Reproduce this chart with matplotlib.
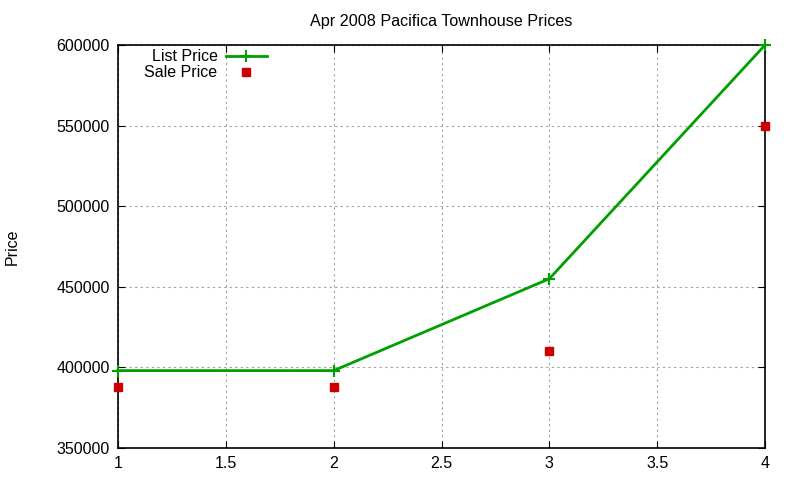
import matplotlib
matplotlib.use("Agg")
import matplotlib.pyplot as plt

x = [1, 2, 3, 4]
list_price = [398000, 398000, 455000, 600000]
sale_price = [388000, 388000, 410000, 550000]
title = "Apr 2008 Pacifica Townhouse Prices"

plt.rcParams['font.family'] = ['Liberation Sans', 'DejaVu Sans']
fig = plt.figure(figsize=(8, 4.8), dpi=100)
ax = fig.add_axes([0.1475, 0.0667, 0.8088, 0.8395])

ax.plot(x, list_price, color='#00a000', lw=2, marker='+', ms=9, mew=1.5, label='List Price', clip_on=False, zorder=3)
ax.plot(x, sale_price, ls='none', color='#cc0000', marker='s', ms=6, label='Sale Price', clip_on=False, zorder=3)

ax.set_xlim(1, 4)
ax.set_ylim(350000, 600000)
ax.set_xticks([1, 1.5, 2, 2.5, 3, 3.5, 4])
ax.set_xticklabels(['1', '1.5', '2', '2.5', '3', '3.5', '4'])
ax.set_yticks(range(350000, 600001, 50000))
ax.set_yticklabels([str(v) for v in range(350000, 600001, 50000)])
ax.tick_params(direction='in', top=True, right=True, length=5, labelsize=11.5, colors='black', pad=6)
ax.grid(True, color='#a0a0a0', ls=(0, (2, 3)), lw=0.8)
for s in ax.spines.values():
    s.set_linewidth(1.2)
ax.set_title(title, fontsize=11.6, pad=14)
ax.set_ylabel('Price', fontsize=11.5)
ax.yaxis.set_label_coords(-0.152, 0.5)

leg = ax.legend(loc='upper left', bbox_to_anchor=(0.031, 1.005), frameon=False, markerfirst=False,
                fontsize=11.5, handlelength=2.6, handletextpad=0.5, borderaxespad=0.0,
                labelspacing=0.05)
fig.savefig('out.png', dpi=100)
